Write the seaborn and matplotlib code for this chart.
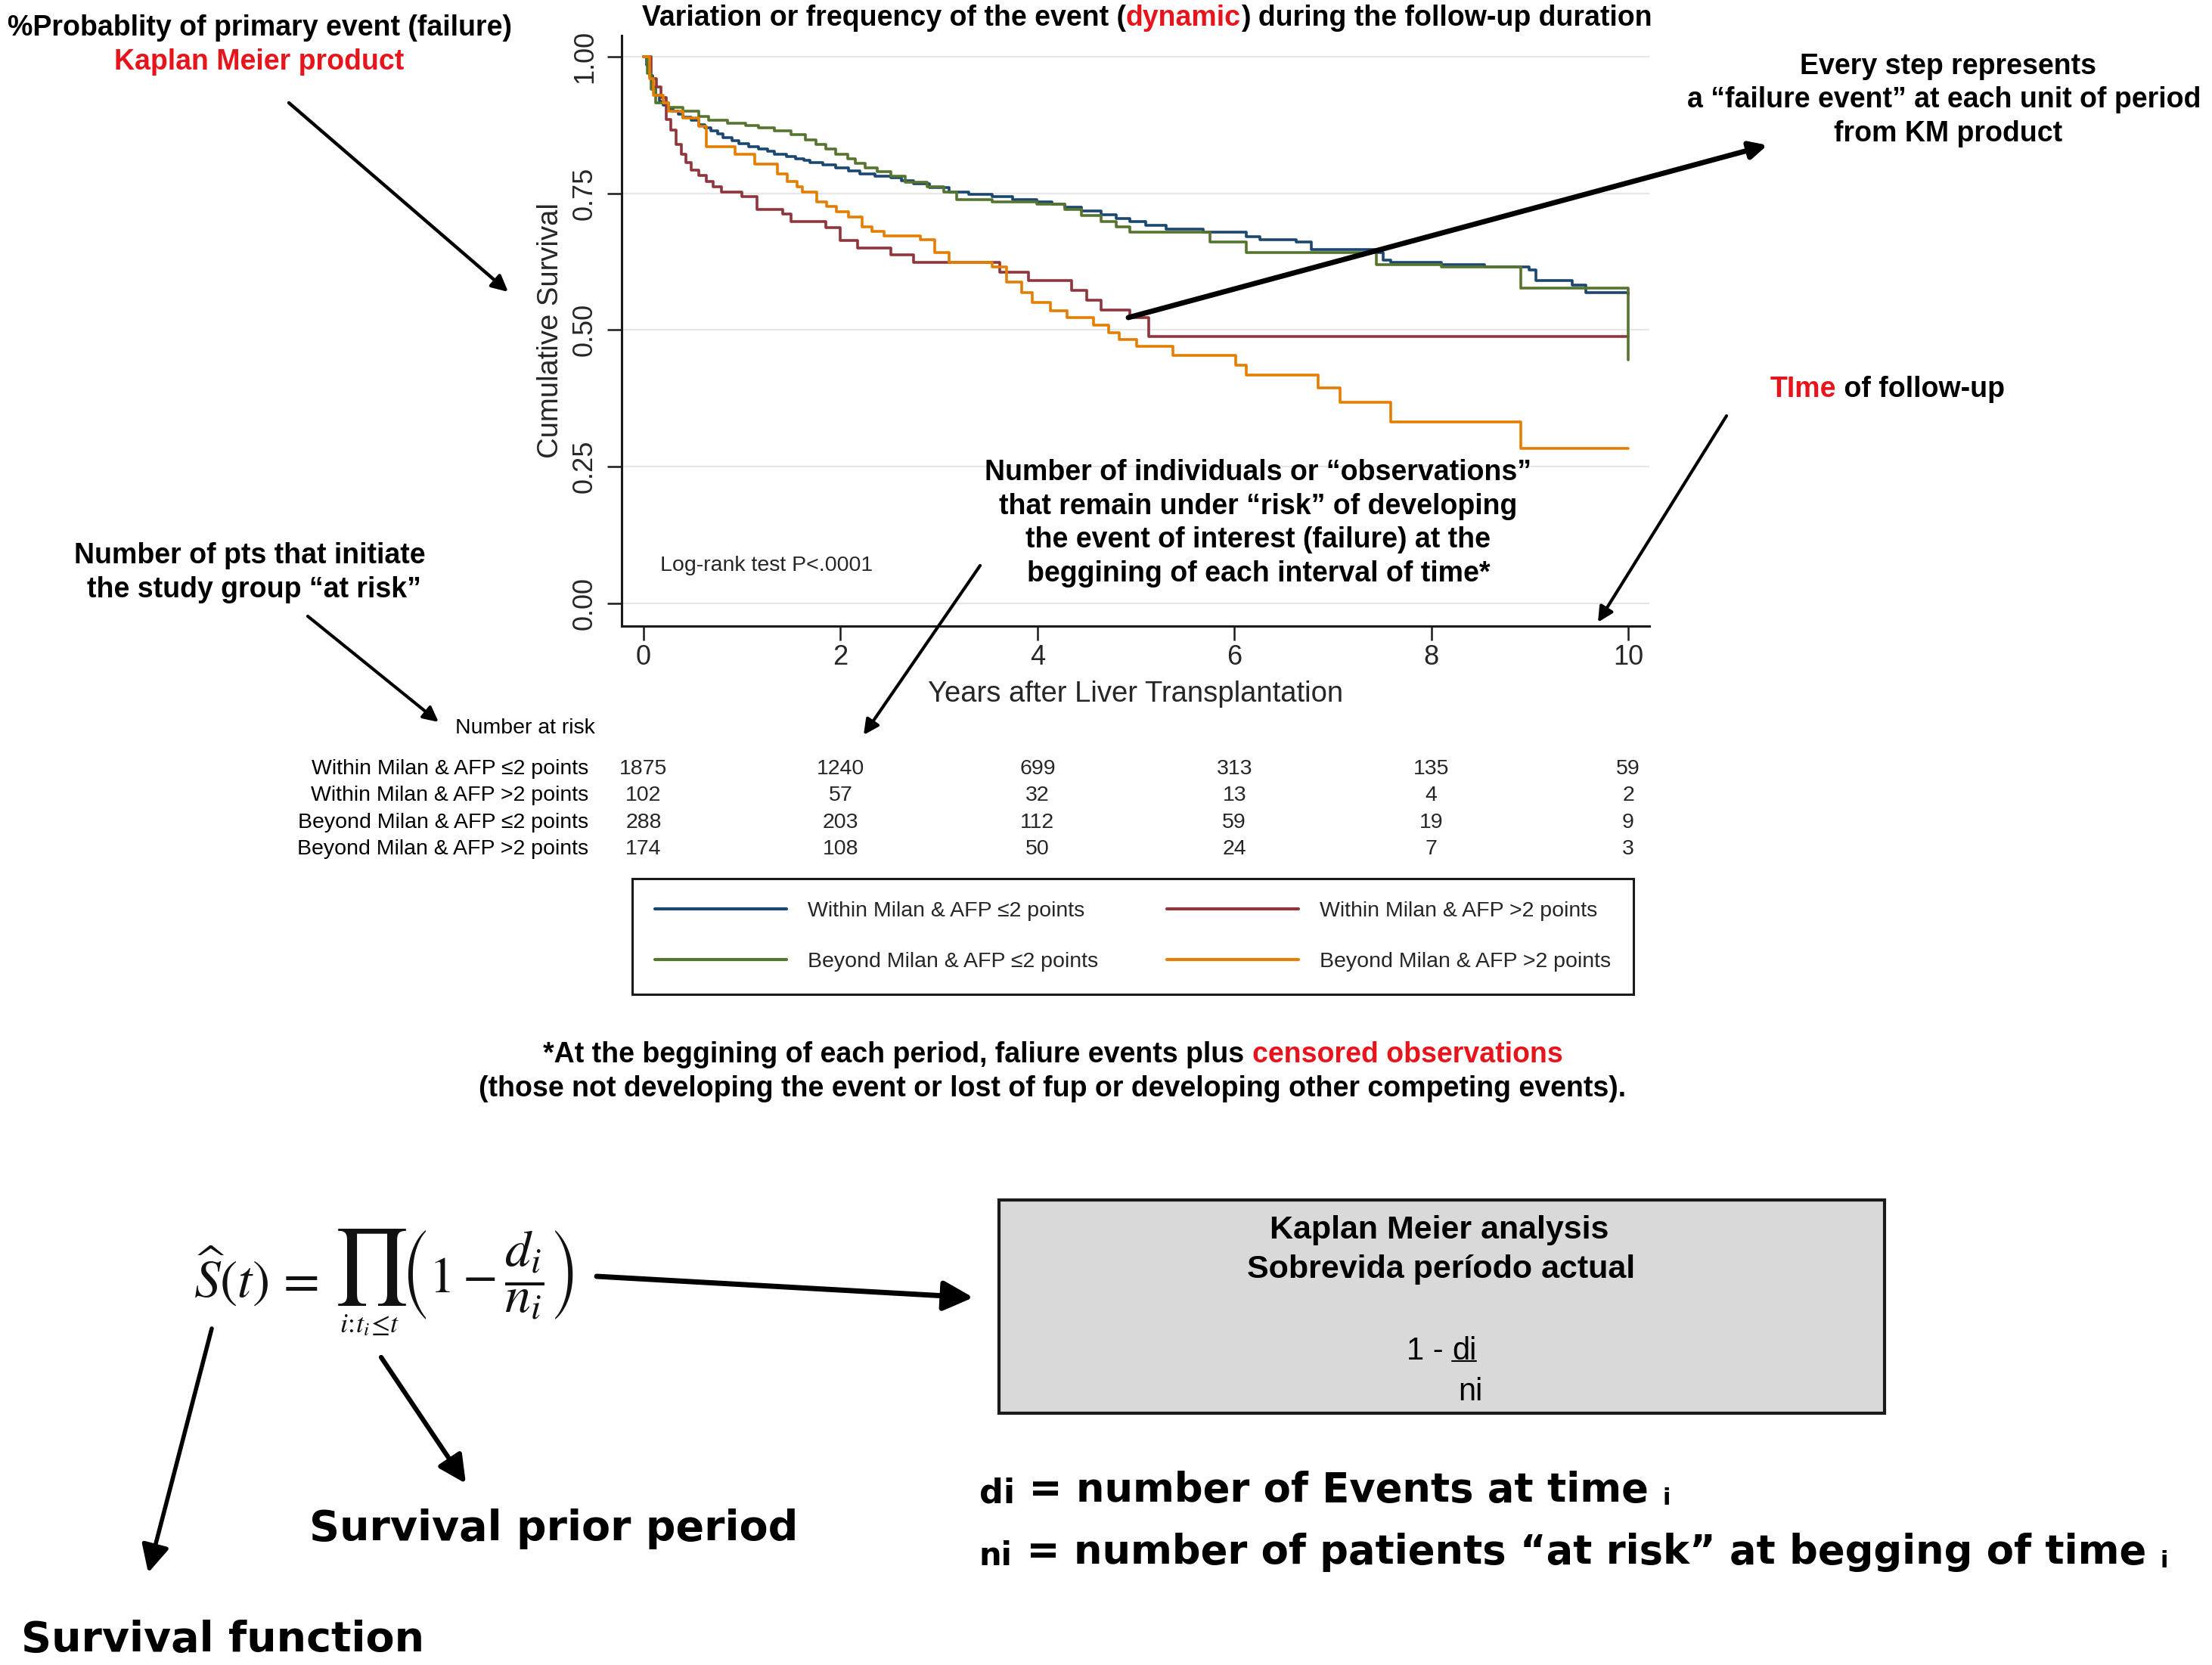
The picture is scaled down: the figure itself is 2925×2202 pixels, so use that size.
import matplotlib
matplotlib.use("Agg")
import matplotlib.pyplot as plt
import matplotlib.transforms as mtrans
from matplotlib.patches import FancyArrowPatch, Rectangle
from matplotlib.lines import Line2D
import pandas as pd
import seaborn as sns

W, H = 2925, 2202

# groups and colours
groups = ["Within Milan & AFP ≤2 points", "Within Milan & AFP >2 points",
          "Beyond Milan & AFP ≤2 points", "Beyond Milan & AFP >2 points"]
colors = ["#1a476f", "#90353b", "#55752f", "#e37e00"]

# Kaplan-Meier steps (years, survival after the step)
t_within_low = [0, 0.03, 0.06, 0.09, 0.12, 0.16, 0.2, 0.25, 0.3, 0.35, 0.4, 0.48, 0.56, 0.62,
                0.68, 0.75, 0.81, 0.9, 0.97, 1.07, 1.17, 1.26, 1.33, 1.45, 1.54, 1.63, 1.69,
                1.82, 1.95, 2.08, 2.2, 2.35, 2.51, 2.62, 2.74, 2.9, 3.1, 3.3, 3.54, 3.75, 3.99,
                4.15, 4.28, 4.45, 4.65, 4.8, 4.94, 5.1, 5.31, 5.68, 6.12, 6.26, 6.63, 6.78,
                7.44, 7.51, 7.59, 8.1, 8.54, 8.99, 9.06, 9.43, 9.57, 10.0]
s_within_low = [1.0, 0.985, 0.965, 0.945, 0.93, 0.918, 0.912, 0.905, 0.9, 0.895, 0.89, 0.884,
                0.876, 0.87, 0.865, 0.859, 0.852, 0.846, 0.841, 0.836, 0.831, 0.827, 0.822,
                0.818, 0.813, 0.81, 0.806, 0.802, 0.797, 0.791, 0.786, 0.782, 0.778, 0.773,
                0.767, 0.76, 0.753, 0.748, 0.744, 0.739, 0.735, 0.73, 0.725, 0.718, 0.711,
                0.704, 0.698, 0.691, 0.684, 0.679, 0.67, 0.665, 0.661, 0.647, 0.642, 0.628,
                0.624, 0.619, 0.615, 0.61, 0.591, 0.582, 0.568, 0.565]

t_within_high = [0, 0.08, 0.13, 0.18, 0.23, 0.28, 0.33, 0.38, 0.43, 0.48, 0.56, 0.64, 0.71,
                 0.79, 1.0, 1.15, 1.41, 1.5, 1.85, 2.0, 2.17, 2.51, 2.74, 3.62, 3.91, 4.35,
                 4.5, 4.65, 4.94, 5.13, 10.0]
s_within_high = [1.0, 0.96, 0.945, 0.925, 0.885, 0.866, 0.84, 0.822, 0.806, 0.792, 0.783,
                 0.772, 0.762, 0.752, 0.744, 0.721, 0.712, 0.698, 0.687, 0.664, 0.65, 0.638,
                 0.624, 0.605, 0.591, 0.573, 0.554, 0.536, 0.522, 0.488, 0.488]

t_beyond_low = [0, 0.04, 0.08, 0.12, 0.25, 0.4, 0.56, 0.66, 0.85, 1.04, 1.17, 1.33, 1.5,
                1.64, 1.75, 1.85, 1.95, 2.07, 2.15, 2.25, 2.37, 2.51, 2.66, 2.88, 3.05, 3.18,
                3.54, 3.99, 4.28, 4.45, 4.65, 4.8, 4.94, 5.75, 6.12, 7.44, 8.1, 8.91, 10.0, 10.0]
s_beyond_low = [1.0, 0.97, 0.94, 0.915, 0.908, 0.9, 0.891, 0.884, 0.878, 0.874, 0.87, 0.864,
                0.857, 0.848, 0.84, 0.831, 0.822, 0.813, 0.805, 0.797, 0.79, 0.781, 0.771,
                0.762, 0.752, 0.739, 0.735, 0.73, 0.721, 0.71, 0.698, 0.688, 0.679, 0.661,
                0.642, 0.619, 0.615, 0.577, 0.577, 0.445]

t_beyond_high = [0, 0.06, 0.1, 0.2, 0.25, 0.4, 0.56, 0.64, 0.93, 1.13, 1.36, 1.46, 1.56,
                 1.61, 1.76, 1.86, 1.96, 2.08, 2.22, 2.32, 2.44, 2.81, 2.96, 3.1, 3.54, 3.69,
                 3.84, 3.95, 4.13, 4.3, 4.57, 4.72, 4.83, 5.01, 5.38, 6.01, 6.12, 6.85, 7.07,
                 7.59, 8.91, 10.0]
s_beyond_high = [1.0, 0.96, 0.93, 0.915, 0.9, 0.888, 0.873, 0.836, 0.822, 0.804, 0.785, 0.772,
                 0.762, 0.753, 0.735, 0.726, 0.716, 0.707, 0.689, 0.68, 0.672, 0.665, 0.642,
                 0.624, 0.615, 0.587, 0.568, 0.55, 0.535, 0.522, 0.509, 0.495, 0.483, 0.47,
                 0.454, 0.435, 0.417, 0.394, 0.368, 0.331, 0.283, 0.283]

# number at risk table
risk_years = [0, 2, 4, 6, 8, 10]
risk_within_low = [1875, 1240, 699, 313, 135, 59]
risk_within_high = [102, 57, 32, 13, 4, 2]
risk_beyond_low = [288, 203, 112, 59, 19, 9]
risk_beyond_high = [174, 108, 50, 24, 7, 3]

y_ticks = [0, 0.25, 0.5, 0.75, 1.0]
y_tick_labels = ["0.00", "0.25", "0.50", "0.75", "1.00"]


def fx(px):
    return px / W


def fy(py):
    return 1 - py / H


sns.set_style("ticks")
plt.rcParams["font.family"] = ["Liberation Sans", "DejaVu Sans"]
plt.rcParams["mathtext.fontset"] = "stix"

fig = plt.figure(figsize=(W / 100, H / 100), dpi=100)
ax = fig.add_axes([fx(822), fy(828), (2181 - 822) / W, (828 - 47) / H])

frames = []
for g, t, s in zip(groups,
                   [t_within_low, t_within_high, t_beyond_low, t_beyond_high],
                   [s_within_low, s_within_high, s_beyond_low, s_beyond_high]):
    frames.append(pd.DataFrame({"time": t, "surv": s, "group": g}))
df = pd.concat(frames, ignore_index=True)

sns.lineplot(data=df, x="time", y="surv", hue="group", hue_order=groups, palette=colors,
             estimator=None, sort=False, drawstyle="steps-post", linewidth=2.6,
             legend=False, ax=ax)

ax.set_xlim(-0.223, 10.215)
ax.set_ylim(-0.042, 1.0388)
ax.set_xticks(risk_years)
ax.set_yticks(y_ticks)
ax.set_yticklabels(y_tick_labels, rotation=90, va="center")
ax.grid(axis="y", color="#e6e6e6", lw=1.6)
ax.set_axisbelow(True)
for side in ["top", "right"]:
    ax.spines[side].set_visible(False)
for side in ["left", "bottom"]:
    ax.spines[side].set_linewidth(2.2)
    ax.spines[side].set_color("#1a1a1a")
ax.tick_params(axis="both", length=13.5, width=1.8, color="#1a1a1a", labelsize=26)
ax.tick_params(axis="y", pad=9)
ax.tick_params(axis="x", pad=4)
ax.set_xlabel("Years after Liver Transplantation", fontsize=27.5, va="center")
ax.xaxis.set_label_coords(0.5004, (828 - 918) / 781)
ax.set_ylabel("Cumulative Survival", fontsize=27.5, va="center")
ax.yaxis.set_label_coords((728 - 822) / 1359, 0.5)

fig.text(fx(873), fy(748), "Log-rank test P<.0001", fontsize=20.5, ha="left", va="center")


def rich(x, y, parts, weight="bold", family=None):
    # parts: (text, colour, size); pieces are chained left to right
    def kw(size):
        d = dict(size=size, weight=weight)
        if family:
            d["family"] = family
        return d
    prev = fig.text(fx(x), fy(y), parts[0][0], color=parts[0][1], ha="left", va="center",
                    zorder=5, **kw(parts[0][2]))
    out = [prev]
    for s, c, size in parts[1:]:
        prev = fig.add_artist(matplotlib.text.Annotation(
            s, xy=(1, 0), xycoords=prev, color=c, ha="left", va="bottom",
            annotation_clip=False, zorder=5, **kw(size)))
        out.append(prev)
    return out


def label(x, y, s, size=27, weight="bold", color="black", ha="center", family=None):
    kw = dict(size=size, weight=weight, color=color, ha=ha, va="center", zorder=5)
    if family:
        kw["family"] = family
    return fig.text(fx(x), fy(y), s, **kw)


def arrow(x0, y0, x1, y1, lw=3.0, scale=30):
    fig.add_artist(FancyArrowPatch((fx(x0), fy(y0)), (fx(x1), fy(y1)),
                                   transform=fig.transFigure, arrowstyle="-|>",
                                   mutation_scale=scale, lw=lw, color="black",
                                   shrinkA=0, shrinkB=0, zorder=10))


RED = "#e8141c"

# title with coloured word
rich(849, 24, [("Variation or frequency of the event (", "black", 27), ("dynamic", RED, 27),
               (") during the follow-up duration", "black", 27)])

# left annotations
label(343, 37, "%Probablity of primary event (failure)")
label(343, 82, "Kaplan Meier product", color=RED)
arrow(382, 136, 672, 386, lw=3.2, scale=32)

label(330, 735, "Number of pts that initiate")
label(336, 780, "the study group “at risk”")
arrow(407, 815, 580, 955, lw=3.0, scale=30)

# right annotations
label(2576, 88, "Every step represents")
label(2571, 132, "a “failure event” at each unit of period")
label(2576, 177, "from KM product")
arrow(1492, 420, 2337, 192, lw=5.0, scale=34)

rich(2341, 515, [("TIme", RED, 27), (" of follow-up", "black", 27)])
arrow(2283, 550, 2113, 823, lw=3.0, scale=30)

label(1664, 625, "Number of individuals or “observations”")
label(1664, 670, "that remain under “risk” of developing")
label(1664, 714, "the event of interest (failure) at the")
label(1664, 759, "beggining of each interval of time*")
arrow(1296, 748, 1142, 972, lw=3.0, scale=30)

# number at risk table
label(787, 963, "Number at risk", size=20.5, weight="normal", ha="right")
trans = mtrans.blended_transform_factory(ax.transData, fig.transFigure)
rows_y = [1017, 1052, 1088, 1123]
for g, counts, ry in zip(groups,
                         [risk_within_low, risk_within_high, risk_beyond_low, risk_beyond_high],
                         rows_y):
    label(778, ry, g, size=20.5, weight="normal", ha="right")
    for yr, n in zip(risk_years, counts):
        ax.text(yr, fy(ry), str(n), transform=trans, fontsize=20.5, ha="center",
                va="center", clip_on=False)

# legend
handles = [Line2D([], [], color=colors[i], lw=3.0) for i in [0, 2, 1, 3]]
leg_labels = [groups[i] for i in [0, 2, 1, 3]]
leg = fig.legend(handles, leg_labels, ncol=2, loc="upper left",
                 bbox_to_anchor=(fx(836), fy(1162)), borderaxespad=0, fontsize=20.5,
                 frameon=True, fancybox=False, edgecolor="#1a1a1a", framealpha=1,
                 borderpad=1.05, labelspacing=1.45, handlelength=6.1, handletextpad=1.0,
                 columnspacing=3.2)
leg.get_frame().set_linewidth(2.2)

# footnote
rich(718, 1395, [("*At the beggining of each period, faliure events plus ", "black", 27),
                 ("censored observations", RED, 27)])
label(1392, 1440, "(those not developing the event or lost of fup or developing other "
                  "competing events).")

# formula, built from pieces so the product sign is large
fig.text(fx(256), fy(1688), r"$\widehat{S}(t)\,=$", fontsize=50, ha="left", va="center",
         color="#111111")
fig.text(fx(489), fy(1676), r"$\prod$", fontsize=72, ha="center", va="center",
         color="#111111")
fig.text(fx(489), fy(1753), r"$i\!:\!t_i\!\leq\! t$", fontsize=26, ha="center",
         va="center", color="#111111")
fig.text(fx(530), fy(1686), r"$\left(1-\dfrac{d_i}{n_i}\right)$", fontsize=49, ha="left",
         va="center", color="#111111")
arrow(789, 1688, 1287, 1716, lw=5.0, scale=60)
arrow(280, 1757, 196, 2080, lw=4.0, scale=55)
arrow(504, 1795, 616, 1962, lw=4.5, scale=55)

label(28, 2169, "Survival function", size=40, ha="left", family="DejaVu Sans")
label(409, 2022, "Survival prior period", size=40, ha="left", family="DejaVu Sans")

# grey box
fig.add_artist(Rectangle((fx(1321), fy(1869)), (2492 - 1321) / W, (1869 - 1587) / H,
                         transform=fig.transFigure, facecolor="#d9d9d9",
                         edgecolor="#1a1a1a", lw=3, zorder=1))
label(1903, 1627, "Kaplan Meier analysis", size=31)
label(1906, 1679, "Sobrevida período actual", size=31)
frac = rich(1860, 1787, [("1 - ", "black", 30), ("di", "black", 30)], weight="normal")
label(1944, 1841, "ni", size=30, weight="normal")

rich(1295, 1975, [("di", "black", 32), (" = number of Events at time ", "black", 38),
                  ("i", "black", 22)], family="DejaVu Sans")
rich(1295, 2058, [("ni", "black", 30),
                  (" = number of patients “at risk” at begging of time ", "black", 38),
                  ("i", "black", 22)], family="DejaVu Sans")

# underline under "di" in the box
fig.canvas.draw()
bb = frac[1].get_window_extent().transformed(fig.transFigure.inverted())
fig.add_artist(Line2D([bb.x0, bb.x1], [bb.y0 + 0.003, bb.y0 + 0.003],
                      transform=fig.transFigure, color="black", lw=1.5, zorder=6))

fig.savefig("out.png", dpi=100)
